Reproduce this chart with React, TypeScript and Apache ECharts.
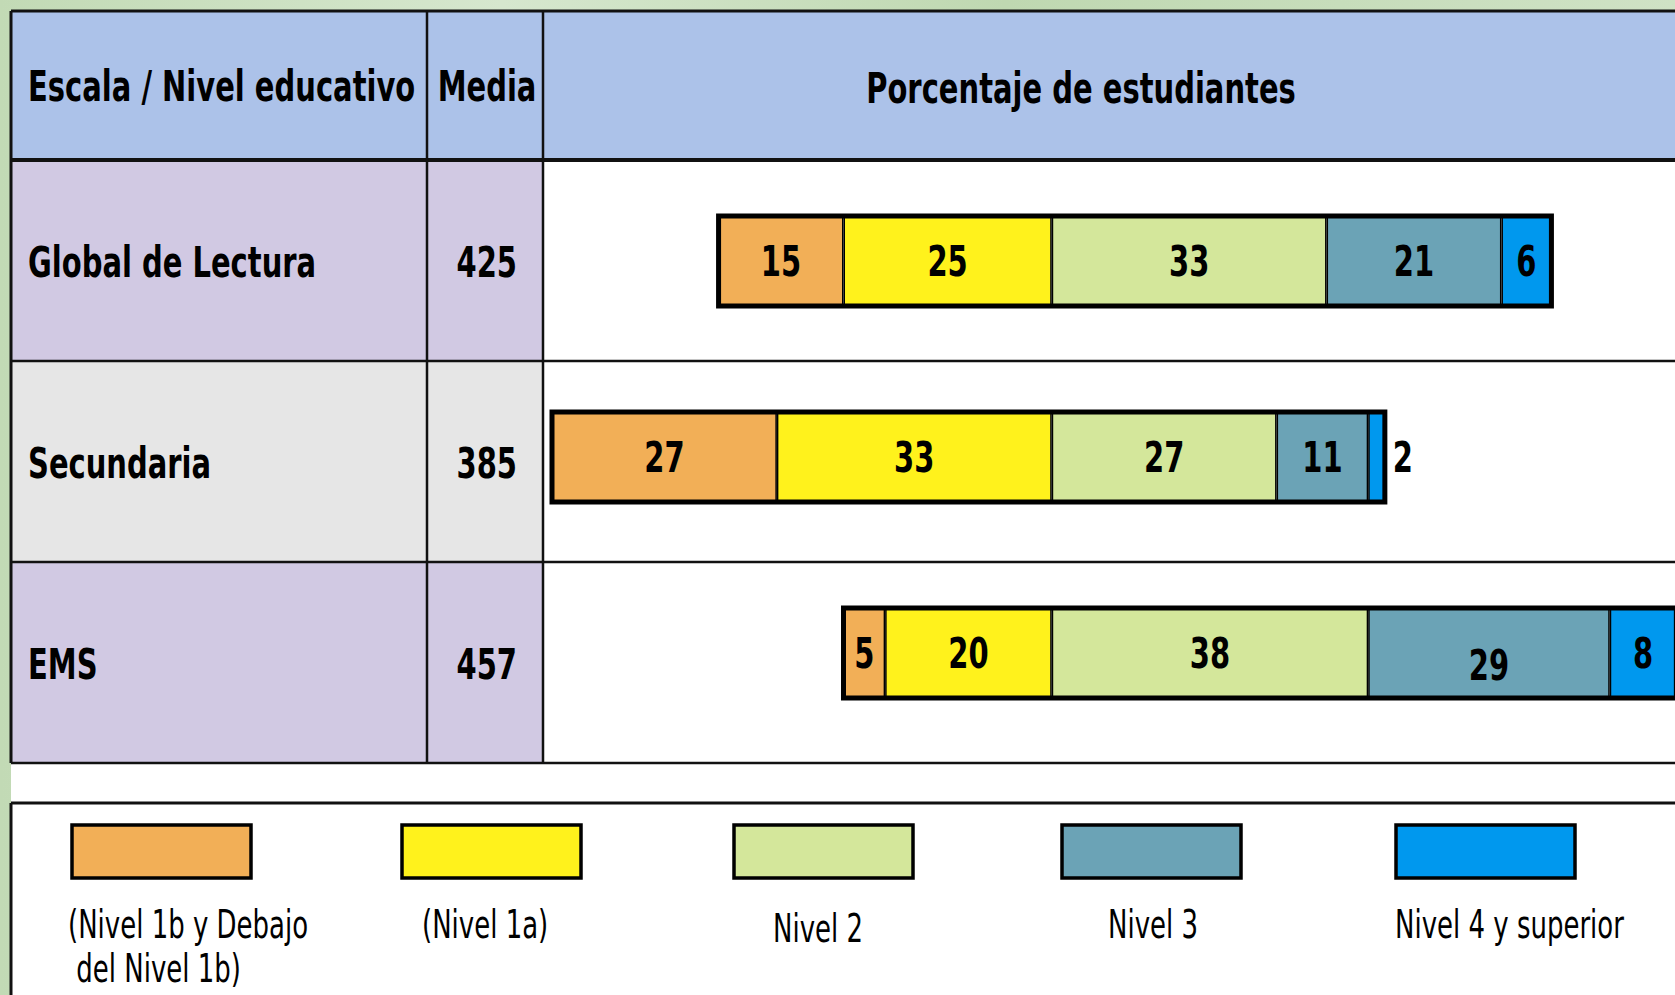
import React, { useEffect, useRef } from "react";
import * as echarts from "echarts";

// ---------------- data ----------------
const categories = ["Global de Lectura", "Secundaria", "EMS"];
const medias = [425, 385, 457];
const headers = ["Escala / Nivel educativo", "Media", "Porcentaje de estudiantes"];
const levelNames = [
  "(Nivel 1b y Debajo\n del Nivel 1b)",
  "(Nivel 1a)",
  "Nivel 2",
  "Nivel 3",
  "Nivel 4 y superior",
];
const nivel1b = [15, 27, 5];
const nivel1a = [25, 33, 20];
const nivel2 = [33, 27, 38];
const nivel3 = [21, 11, 29];
const nivel4 = [6, 2, 8];

// ---------------- style / layout ----------------
const levelColors = ["#F2AF57", "#FFF21C", "#D4E79B", "#6BA3B6", "#0098EE"];
const FONT = '"DejaVu Sans", Verdana, sans-serif';
const SY = 1.5;
const W = 1675;
const H = 995;
const LEFT = 11;
const TOP = 11;
const COL1 = 427;
const COL2 = 543;
const HEADER_BOTTOM = 160;
const ROW_LINES = [361, 562, 763];
const LEGEND_TOP = 803;
const rowFills = ["#D1C9E3", "#E6E6E6", "#D1C9E3"];
const headerFill = "#ACC2E9";
const legendBoxX = [72, 402, 734, 1062, 1396];
const legendBoxW = 179;
const legendBoxY = 825;
const legendBoxH = 53;
const legendTextX = [68, 422, 773, 1108, 1395];
const legendTextY = [903, 903, 907, 903, 903];
const labelNudge: Record<string, number> = { "2-3": 12 };

function textEl(
  text: string,
  x: number,
  y: number,
  align: string,
  size: number,
  bold: boolean,
  vAlign = "middle"
) {
  return {
    type: "text",
    x,
    y,
    scaleY: SY,
    silent: true,
    style: {
      x: 0,
      y: 0,
      text,
      fill: "#000",
      fontFamily: FONT,
      fontSize: size,
      fontWeight: bold ? "bold" : "normal",
      lineHeight: 29,
      align,
      textAlign: align,
      verticalAlign: vAlign,
      textVerticalAlign: vAlign,
    },
  };
}

function lineEl(x1: number, y1: number, x2: number, y2: number, w: number) {
  return {
    type: "line",
    silent: true,
    shape: { x1, y1, x2, y2 },
    style: { stroke: "#111", lineWidth: w },
  };
}

export default function App() {
  const ref = useRef<HTMLDivElement>(null);

  useEffect(() => {
    if (!ref.current) return;
    const chart = echarts.init(ref.current, null, { renderer: "svg" });

    const levels = [nivel1b, nivel1a, nivel2, nivel3, nivel4];
    const stackOrder = [1, 0, 2, 3, 4];

    const barSeries = stackOrder.map((li) => ({
      type: "bar",
      name: levelNames[li],
      stack: "total",
      barWidth: 90,
      data: levels[li].map((v) => (li < 2 ? -v : v)),
      itemStyle: { color: levelColors[li], borderColor: "#000", borderWidth: 1.5 },
      label: { show: false },
      emphasis: { disabled: true },
      silent: true,
      z: 2,
    }));

    const segs: number[][] = [];
    const totals: number[][] = [];
    categories.forEach((_c, i) => {
      const neg = nivel1b[i] + nivel1a[i];
      const pos = nivel2[i] + nivel3[i] + nivel4[i];
      totals.push([i, neg, pos]);
      let s = -neg;
      levels.forEach((arr, li) => {
        const v = arr[i];
        segs.push([i, s, s + v, v, li]);
        s += v;
      });
    });

    const outlineSeries = {
      type: "custom",
      z: 3,
      silent: true,
      encode: { y: 0, x: [1, 2] },
      data: totals,
      renderItem: (_p: any, api: any) => {
        const cat = api.value(0);
        const a = api.coord([-api.value(1), cat]);
        const b = api.coord([api.value(2), cat]);
        const h = 90;
        return {
          type: "rect",
          shape: { x: a[0], y: a[1] - h / 2, width: b[0] - a[0], height: h },
          style: { fill: "none", stroke: "#000", lineWidth: 5 },
        };
      },
    };

    const labelSeries = {
      type: "custom",
      z: 4,
      silent: true,
      encode: { y: 0, x: [1, 2] },
      data: segs,
      renderItem: (_p: any, api: any) => {
        const cat = api.value(0);
        const s = api.value(1);
        const e = api.value(2);
        const v = api.value(3);
        const li = api.value(4);
        const p1 = api.coord([s, cat]);
        const p2 = api.coord([e, cat]);
        const w = p2[0] - p1[0];
        let x = (p1[0] + p2[0]) / 2;
        let align = "center";
        if (w < 20) {
          x = p2[0] + 8;
          align = "left";
        }
        const nudge = labelNudge[`${cat}-${li}`] || 0;
        return {
          type: "text",
          x,
          y: p1[1] + nudge,
          scaleY: SY,
          style: {
            x: 0,
            y: 0,
            text: String(v),
            fill: "#000",
            fontFamily: FONT,
            fontSize: 29,
            fontWeight: "bold",
            align,
            textAlign: align,
            verticalAlign: "middle",
            textVerticalAlign: "middle",
          },
        };
      },
    };

    const graphics: any[] = [];
    // page background (green texture)
    graphics.push({
      type: "rect",
      silent: true,
      z: -10,
      shape: { x: 0, y: 0, width: W, height: H },
      style: {
        fill: new echarts.graphic.LinearGradient(0, 0, 1, 0, [
          { offset: 0, color: "#C2DAB5" },
          { offset: 0.3, color: "#D6E7CE" },
          { offset: 0.6, color: "#BFD8B1" },
          { offset: 1, color: "#CFE2C5" },
        ]),
      },
    });
    // white panel
    graphics.push({
      type: "rect",
      silent: true,
      z: -9,
      shape: { x: LEFT, y: TOP, width: W - LEFT, height: H - TOP },
      style: { fill: "#FFFFFF" },
    });
    // header background
    graphics.push({
      type: "rect",
      silent: true,
      z: -8,
      shape: { x: LEFT, y: TOP, width: W - LEFT, height: HEADER_BOTTOM - TOP },
      style: { fill: headerFill },
    });
    // row backgrounds
    let prev = HEADER_BOTTOM;
    ROW_LINES.forEach((yb, i) => {
      graphics.push({
        type: "rect",
        silent: true,
        z: -8,
        shape: { x: LEFT, y: prev, width: COL2 - LEFT, height: yb - prev },
        style: { fill: rowFills[i] },
      });
      prev = yb;
    });
    // lines
    graphics.push(lineEl(LEFT, TOP, W, TOP, 3));
    graphics.push(lineEl(LEFT, TOP, LEFT, ROW_LINES[2], 3));
    graphics.push(lineEl(LEFT, HEADER_BOTTOM, W, HEADER_BOTTOM, 4));
    ROW_LINES.forEach((y) => graphics.push(lineEl(LEFT, y, W, y, 2.5)));
    graphics.push(lineEl(COL1, TOP, COL1, ROW_LINES[2], 2.5));
    graphics.push(lineEl(COL2, TOP, COL2, ROW_LINES[2], 2.5));
    graphics.push(lineEl(LEFT, LEGEND_TOP, W, LEGEND_TOP, 3));
    graphics.push(lineEl(LEFT, LEGEND_TOP, LEFT, H, 3));

    // header texts
    const headerY = (TOP + HEADER_BOTTOM) / 2 + 1;
    graphics.push(textEl(headers[0], 28, headerY, "left", 29, true));
    graphics.push(textEl(headers[1], (COL1 + COL2) / 2 + 2, headerY, "center", 29, true));
    graphics.push(textEl(headers[2], 1081, headerY + 2, "center", 29, true));

    // row texts
    let top = HEADER_BOTTOM;
    ROW_LINES.forEach((yb, i) => {
      const cy = (top + yb) / 2 + 2;
      graphics.push(textEl(categories[i], 28, cy, "left", 29, true));
      graphics.push(textEl(String(medias[i]), 517, cy, "right", 29, true));
      top = yb;
    });

    // legend
    levelNames.forEach((name, i) => {
      graphics.push({
        type: "rect",
        silent: true,
        shape: { x: legendBoxX[i], y: legendBoxY, width: legendBoxW, height: legendBoxH },
        style: { fill: levelColors[i], stroke: "#000", lineWidth: 3.5 },
      });
      graphics.push(textEl(name, legendTextX[i], legendTextY[i], "left", 26, false, "top"));
    });

    chart.setOption({
      animation: false,
      backgroundColor: "transparent",
      graphic: { elements: graphics },
      grid: {
        left: 552,
        right: -43,
        top: 163,
        height: 588,
        outerBoundsMode: "none",
        containLabel: false,
      },
      xAxis: { type: "value", min: -60, max: 80, show: false },
      yAxis: { type: "category", data: categories, inverse: true, show: false },
      series: [...barSeries, outlineSeries, labelSeries],
    } as any);

    return () => chart.dispose();
  }, []);

  return (
    <div
      ref={ref}
      style={{ position: "absolute", left: 0, top: 0, width: W, height: H }}
    />
  );
}
